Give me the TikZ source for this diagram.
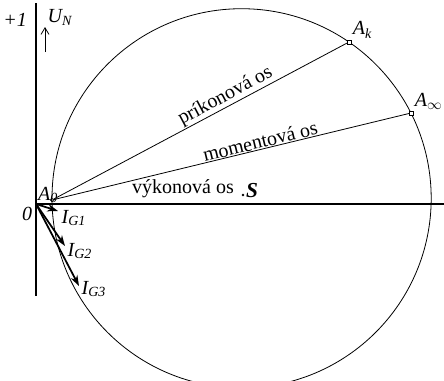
\documentclass[tikz,border=0pt]{standalone}
\usepackage{fontspec}
\setmainfont{Liberation Serif}
\usetikzlibrary{arrows.meta}
\tikzset{
  axis/.style={line width=0.9},
  ray/.style={line width=0.6},
  vec/.style={line width=1.3,-{Stealth[length=8pt,width=5.5pt]}},
  ptbox/.style={draw,fill=white,line width=0.5,minimum size=3pt,inner sep=0pt},
  lbl/.style={font=\fontsize{15}{17}\selectfont\itshape,inner sep=1pt},
  axlbl/.style={font=\fontsize{15}{17}\selectfont,inner sep=1pt}
}
\begin{document}
\begin{tikzpicture}[x=0.75pt,y=-0.75pt]
  \useasboundingbox (0,0) rectangle (444,380);
  \clip (0,0) rectangle (444,380);
  % points
  \coordinate (O) at (36,204);
  \coordinate (ytop) at (36,3);
  \coordinate (ybot) at (36,296);
  \coordinate (xend) at (444,204);
  \coordinate (M) at (241.6,198.3);
  \coordinate (A0) at (52,200);
  \coordinate (Ak) at (349,42);
  \coordinate (Ainf) at (411,113);
  \coordinate (G1) at (58,211);
  \coordinate (G2) at (65,246);
  \coordinate (G3) at (79,286);
  \coordinate (u1) at (45,52);
  \coordinate (u2) at (45,27);
  % axes and circle
  \draw[axis] (ytop) -- (ybot);
  \draw[axis] (O) -- (xend);
  \draw[ray] (M) circle (189.6);
  \draw[ray] (A0) -- (Ak)
    node[pos=0.6,sloped,above,axlbl,inner sep=0.5pt] {príkonová os};
  \draw[ray] (A0) -- (Ainf)
    node[pos=0.585,sloped,above,axlbl,inner sep=0.5pt] {momentová os};
  \node[axlbl] (vyk) at (183,189) {výkonová os};
  \fill (243,195) circle (1.4);
  \node[font=\fontsize{16}{18}\selectfont\bfseries\itshape,inner sep=0pt] (S) at (252,191) {S};
  % vectors
  \draw[vec] (O) -- (G1);
  \draw[vec] (O) -- (G2);
  \draw[vec] (O) -- (G3);
  \draw[line width=0.6,-{Straight Barb[length=5pt,width=6pt]}] (u1) -- (u2);
  % markers
  \draw[line width=0.5,fill=white] (A0) circle (1.6);
  \node[ptbox] (Akm) at (Ak) {};
  \node[ptbox] (Ainfm) at (Ainf) {};
  % labels
  \node[lbl] (one) at (15,20) {+1};
  \node[lbl,anchor=south west] (UN) at (46,27) {U\textsubscript{N}};
  \node[lbl] (zero) at (27,214) {0};
  \node[lbl] (A0l) at (48,195) {A\textsubscript{0}};
  \node[lbl,anchor=south west] (Akl) at (Akm.north east) {A\textsubscript{k}};
  \node[lbl,anchor=south west] (Ainfl) at (Ainfm.north east) {A\textsubscript{$\infty$}};
  \node[lbl,anchor=west] (IG1) at (60,218) {I\textsubscript{G1}};
  \node[lbl,anchor=west] (IG2) at (66,251) {I\textsubscript{G2}};
  \node[lbl,anchor=west] (IG3) at (80,289) {I\textsubscript{G3}};
\end{tikzpicture}
\end{document}
